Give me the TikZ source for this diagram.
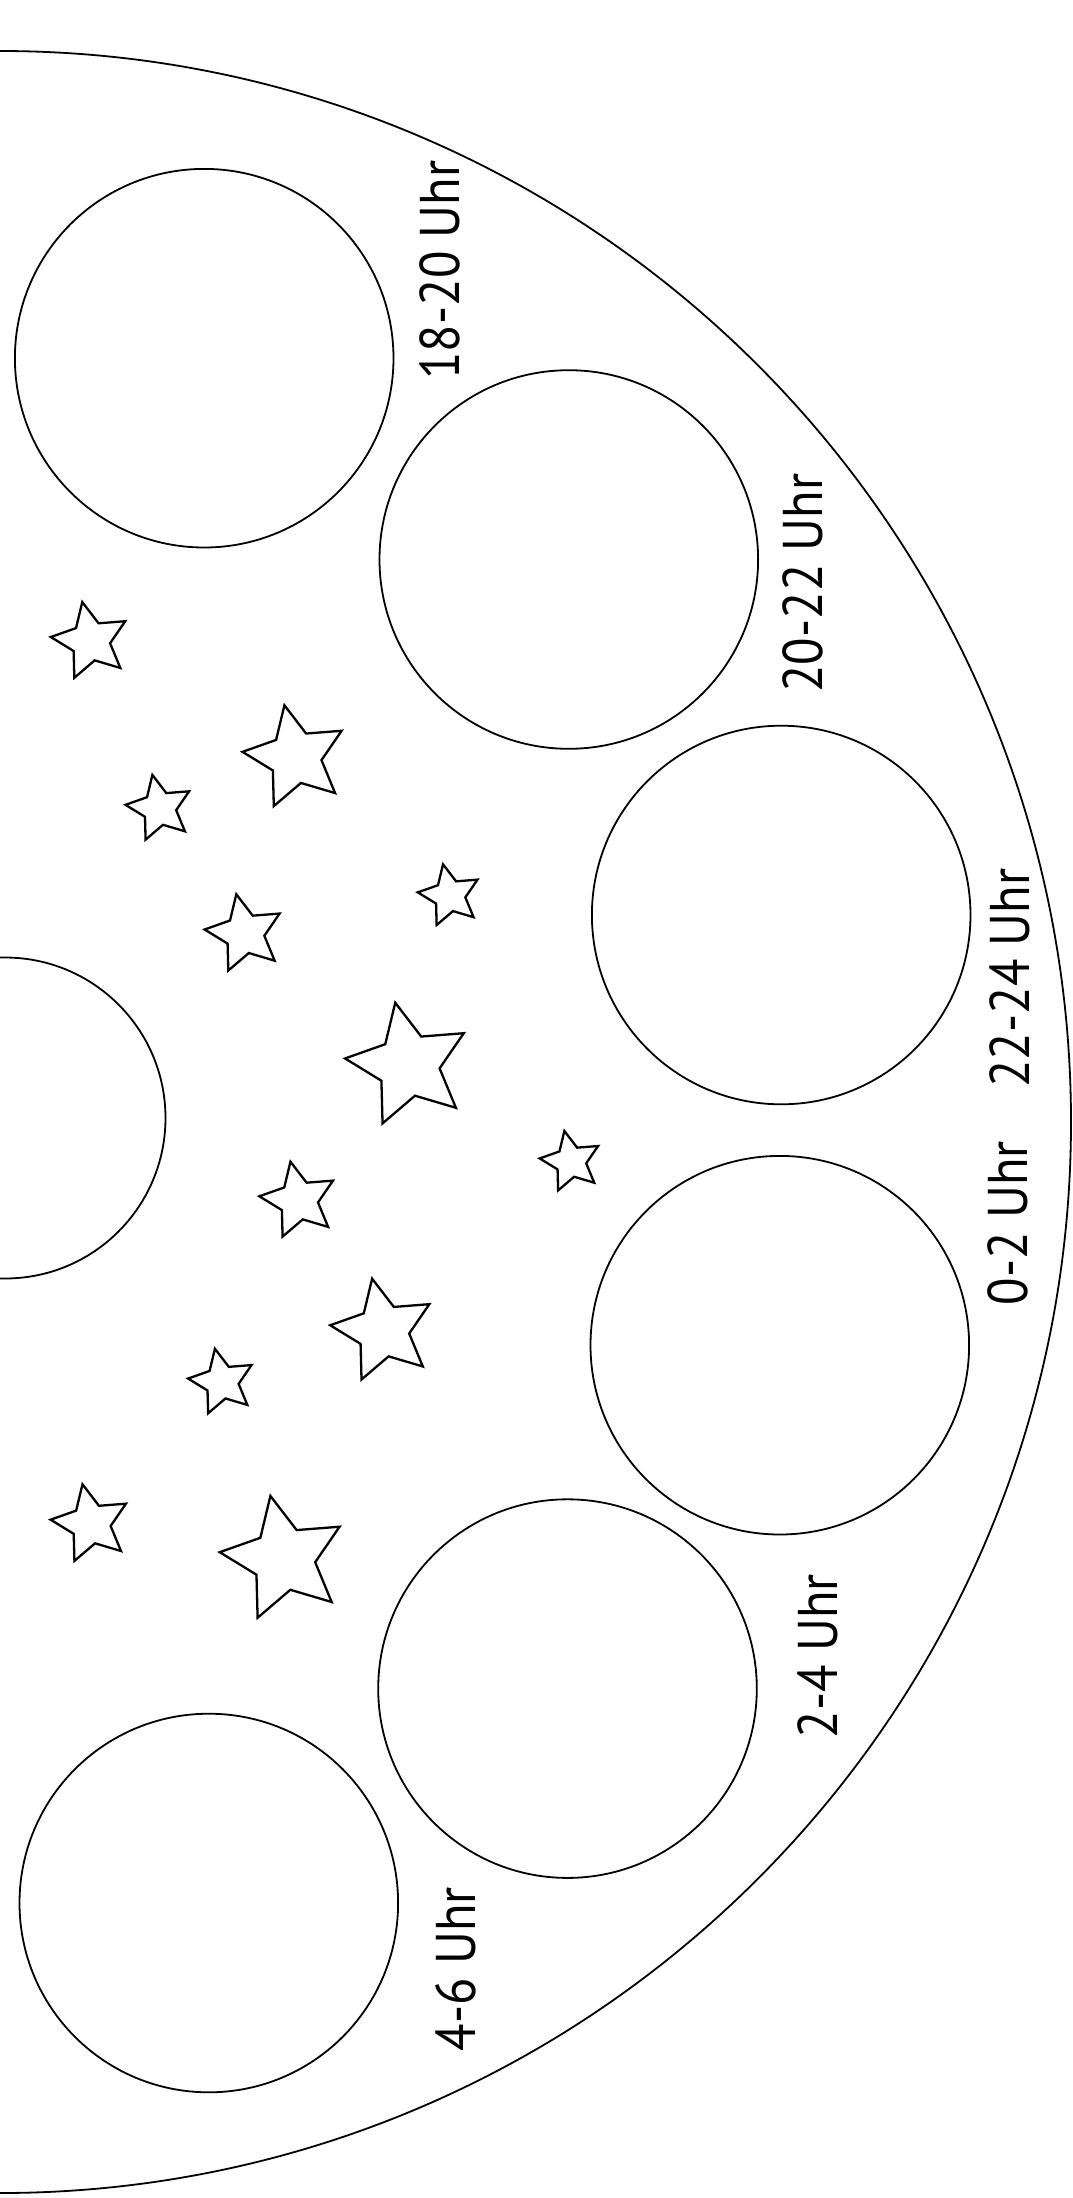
\documentclass[tikz,border=0pt]{standalone}
\usepackage{fontspec}
\setmainfont{PT Sans}[FakeStretch=0.9]
\newcommand\starshape[3]{%
  \draw[starline] ([shift={(#1,#2)}]102:#3pt)
    -- ([shift={(#1,#2)}]66:0.49*#3pt)
    -- ([shift={(#1,#2)}]30:#3pt)
    -- ([shift={(#1,#2)}]-6:0.49*#3pt)
    -- ([shift={(#1,#2)}]-42:#3pt)
    -- ([shift={(#1,#2)}]-78:0.49*#3pt)
    -- ([shift={(#1,#2)}]-114:#3pt)
    -- ([shift={(#1,#2)}]-150:0.49*#3pt)
    -- ([shift={(#1,#2)}]174:#3pt)
    -- ([shift={(#1,#2)}]138:0.49*#3pt)
    -- cycle;}
\begin{document}
\begin{tikzpicture}[x=1pt,y=-1pt,
  ring/.style={line width=1.8pt},
  starline/.style={line width=2.3pt, line join=miter},
  hourlabel/.style={rotate=90, inner sep=0pt, font=\fontsize{56}{60}\selectfont}]
\useasboundingbox (0,0) rectangle (1072,2198);
% outer half circle
\coordinate (hc) at (0,1122);
\draw[ring] ([shift={(hc)}]90:1071pt) arc[start angle=90, end angle=-90, radius=1071pt];
% circles
\draw[ring] (204.2,358.2) circle[radius=189.3pt];
\draw[ring] (568.8,559.5) circle[radius=189.3pt];
\draw[ring] (781.2,915) circle[radius=189.3pt];
\draw[ring] (779.8,1345.2) circle[radius=189.3pt];
\draw[ring] (567.5,1688.6) circle[radius=189.3pt];
\draw[ring] (208.8,1903) circle[radius=189.3pt];
\draw[ring] (5,1118) circle[radius=160.5pt];
% labels
\node[hourlabel] (l1) at (440,270) {18-20 Uhr};
\node[hourlabel] (l2) at (802.5,583) {20-22 Uhr};
\node[hourlabel] (l3) at (1010,978) {22-24 Uhr};
\node[hourlabel] (l4) at (1008,1223) {0-2 Uhr};
\node[hourlabel] (l5) at (817.7,1656) {2-4 Uhr};
\node[hourlabel] (l6) at (455.4,1969) {4-6 Uhr};
% stars
\starshape{90.6}{641.2}{40}
\starshape{295.5}{757.4}{53.3}
\starshape{159.5}{808.4}{34.2}
\starshape{449.7}{895.7}{32.1}
\starshape{244.7}{933.7}{40.3}
\starshape{408.5}{1065.1}{63.8}
\starshape{570.9}{1161.7}{31.4}
\starshape{298.7}{1200.4}{39.6}
\starshape{383.2}{1330.8}{53.3}
\starshape{222.0}{1382.1}{34.1}
\starshape{90.9}{1523.9}{40.5}
\starshape{283.8}{1558.9}{64.4}
\end{tikzpicture}
\end{document}
